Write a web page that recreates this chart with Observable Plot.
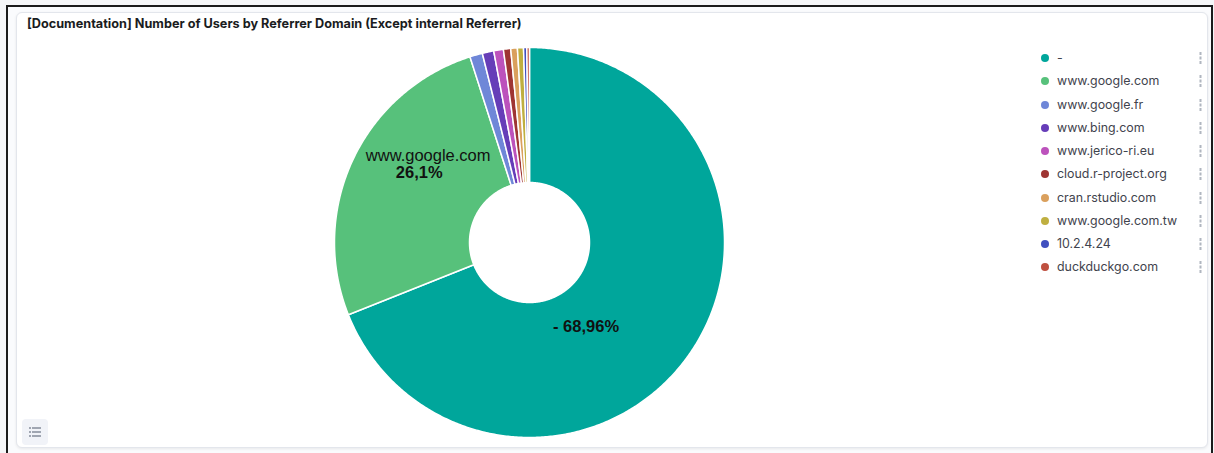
<!DOCTYPE html>
<html><head><meta charset="utf-8">
<script src="https://cdn.jsdelivr.net/npm/d3@7"></script>
<script src="https://cdn.jsdelivr.net/npm/@observablehq/plot@0.6"></script>
<style>
html,body{margin:0;padding:0;background:#fff;width:1214px;height:453px;overflow:hidden;font-family:Inter,"Noto Sans",sans-serif;}
#bg{position:absolute;left:0;top:0;width:1214px;height:453px;background:#f5f6f8;}
#frame{position:absolute;left:6px;top:5px;width:1207px;height:470px;border:2px solid #1b1b1b;box-sizing:border-box;background:#fafbfd;}
#panel{position:absolute;left:16px;top:12px;width:1192px;height:436px;border:1px solid #e3e6ec;border-radius:6px;background:#fff;box-shadow:0 1px 3px rgba(0,0,0,.08);box-sizing:border-box;}
#title{position:absolute;left:27px;top:16px;font-weight:700;font-size:12.7px;color:#1a1c21;white-space:nowrap;}
#chart{position:absolute;left:334px;top:47px;}
#chart svg{overflow:visible;}
#legend{position:absolute;left:1038px;top:47px;width:170px;}
.row{position:relative;height:23.25px;}
.dot{position:absolute;left:3px;top:7px;width:8px;height:8px;border-radius:50%;}
.lab{position:absolute;left:19px;top:3px;font-size:12.4px;color:#3f434d;white-space:nowrap;}
.more{position:absolute;left:161px;top:5px;width:3px;height:12px;}
#icon{position:absolute;left:22px;top:419px;width:26px;height:26px;border-radius:4px;background:#f1f3f8;}
</style>
</head><body>
<div id="bg"></div>
<div id="frame"></div>
<div id="panel"></div>
<div id="title">[Documentation] Number of Users by Referrer Domain (Except internal Referrer)</div>
<div id="chart"></div>
<div id="legend"></div>
<div id="icon"><svg width="26" height="26"><g fill="#a0a6b2"><rect x="7" y="8" width="2" height="2"/><rect x="10" y="8" width="9" height="2"/><rect x="7" y="12" width="2" height="2"/><rect x="10" y="12" width="9" height="2"/><rect x="7" y="16" width="2" height="2"/><rect x="10" y="16" width="9" height="2"/></g></svg></div>
<script>
// ---- data ----
const categories = ["-", "www.google.com", "www.google.fr", "www.bing.com", "www.jerico-ri.eu", "cloud.r-project.org", "cran.rstudio.com", "www.google.com.tw", "10.2.4.24", "duckduckgo.com"];
const shares = [68.96, 26.1, 1.05, 0.95, 0.8, 0.6, 0.55, 0.5, 0.27, 0.22];
const palette = ["#00a69b", "#57c17b", "#6f87d8", "#663db8", "#bc52bc", "#9e3533", "#daa05d", "#bfaf40", "#4050bf", "#bf5040"];

// ---- geometry (unit circle, angles clockwise from 12 o'clock) ----
const inner = 60 / 195;
const arcs = d3.pie().sort(null).value(d => d)(shares);
const pt = (a, r) => [r * Math.sin(a), r * Math.cos(a)];
function ring(a0, a1) {
  const n = Math.max(2, Math.ceil((a1 - a0) / (Math.PI / 360)));
  const out = [], inn = [];
  for (let k = 0; k <= n; k++) {
    const a = a0 + (a1 - a0) * k / n;
    out.push(pt(a, 1));
    inn.push(pt(a, inner));
  }
  const r = out.concat(inn.reverse());
  r.push(r[0]);
  return r;
}
const slices = categories.map((c, i) => ({
  category: c,
  share: shares[i],
  mid: (arcs[i].startAngle + arcs[i].endAngle) / 2,
  geometry: {type: "Polygon", coordinates: [ring(arcs[i].startAngle, arcs[i].endAngle)]}
}));
const full = {type: "Polygon", coordinates: [d3.range(0, 361, 2).map(d => pt(d * Math.PI / 180, 1))]};
const labR = (1 + inner) / 2;
const fmt = v => String(v).replace(".", ",") + "%";
const main = slices.filter(d => d.share > 50);
const second = slices.filter(d => d.share > 5 && d.share <= 50);

const chart = Plot.plot({
  width: 390, height: 390, margin: 0,
  projection: {type: "reflect-y", domain: full},
  color: {domain: categories, range: palette},
  marks: [
    Plot.geo(slices, {geometry: d => d.geometry, fill: d => d.category, stroke: "white", strokeWidth: 1.5}),
    Plot.text(main, {x: d => pt(d.mid, labR)[0], y: d => pt(d.mid, labR)[1], text: d => d.category + " " + fmt(d.share),
      fontFamily: "Liberation Sans, Arial, sans-serif", fontSize: 16.5, fontWeight: "bold", fill: "#111", dx: -49, dy: 13}),
    Plot.text(second, {x: d => pt(d.mid, labR)[0], y: d => pt(d.mid, labR)[1], text: d => d.category,
      fontFamily: "Liberation Sans, Arial, sans-serif", fontSize: 16.5, fill: "#111", dx: 14, dy: -32}),
    Plot.text(second, {x: d => pt(d.mid, labR)[0], y: d => pt(d.mid, labR)[1], text: d => fmt(d.share),
      fontFamily: "Liberation Sans, Arial, sans-serif", fontSize: 16.5, fontWeight: "bold", fill: "#111", dx: 5, dy: -15})
  ]
});
document.getElementById("chart").appendChild(chart);

const color = chart.scale("color");
const lg = document.getElementById("legend");
categories.forEach((c, i) => {
  const row = document.createElement("div");
  row.className = "row";
  row.innerHTML = `<span class="dot" style="background:${palette[color.domain.indexOf(c)]}"></span><span class="lab"></span>` +
    `<svg class="more" width="3" height="12"><g fill="#b0b6c0"><rect x="0.5" y="0" width="2" height="3"/><rect x="0.5" y="4.5" width="2" height="3"/><rect x="0.5" y="9" width="2" height="3"/></g></svg>`;
  row.querySelector(".lab").textContent = c;
  lg.appendChild(row);
});
</script>
</body></html>
